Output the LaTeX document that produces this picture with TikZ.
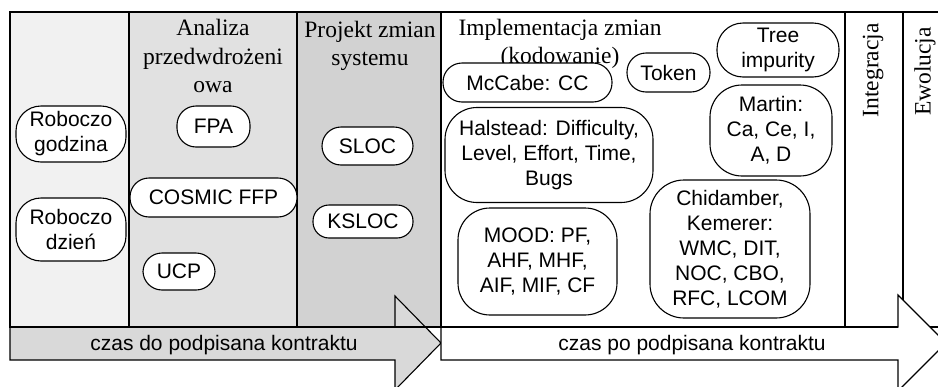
\documentclass[tikz,border=0pt]{standalone}
\usepackage{fontspec}
\setmainfont{Liberation Sans}
\newfontfamily\headfont{Liberation Serif}
\definecolor{phaseA}{RGB}{241,241,241}
\definecolor{phaseB}{RGB}{225,225,225}
\definecolor{phaseC}{RGB}{210,210,210}
\definecolor{arrowgray}{RGB}{217,217,217}

\begin{document}
\begin{tikzpicture}[x=1pt, y=-1pt,
  metric/.style={draw, fill=white, line width=1.1pt, rounded corners=19pt, align=center, inner sep=0pt, font=\fontsize{21}{25}\selectfont},
  phase/.style={align=center, inner sep=0pt, font=\headfont\fontsize{23.5}{28.5}\selectfont},
  column/.style={draw, line width=1.1pt}]
\useasboundingbox (0,0) rectangle (938,386);

% Phase columns
\draw[column, fill=phaseA] (10,12) rectangle (129,327);
\draw[column, fill=phaseB] (129,12) rectangle (297,327);
\draw[column, fill=phaseC] (297,12) rectangle (441,327);
\draw[column, fill=white] (441,12) rectangle (845,327);
\draw[column, fill=white] (845,12) rectangle (903,327);
\draw[column, fill=white] (903,12) rectangle (960,327);

% Phase titles
\node[phase] (analiza) at (213,56) {Analiza\\przedwdrożeni\\owa};
\node[phase] (projekt) at (370,46) {Projekt zmian\\systemu};
\node[phase] (impl) at (560,44) {Implementacja zmian\\(kodowanie)};
\node[phase, rotate=90, anchor=east] (integ) at (873,23) {Integracja};
\node[phase, rotate=90, anchor=east] (ewol) at (925,27) {Ewolucja};

% Time arrows: before and after signing the contract
\draw[line width=1.1pt, fill=arrowgray] (10,327) -- (395,327) -- (395,296) -- (441,343)
  -- (395,390) -- (395,360) -- (10,360) -- cycle;
\draw[line width=1.1pt, fill=white] (441,327) -- (898,327) -- (898,295) -- (946,343)
  -- (898,391) -- (898,360) -- (441,360) -- cycle;
\draw[line width=2.6pt] (10,327) -- (898,327);
\node[font=\fontsize{21}{25}\selectfont] (przed) at (224,345) {czas do podpisana kontraktu};
\node[font=\fontsize{21}{25}\selectfont] (po) at (692,345) {czas po podpisana kontraktu};

% Effort units
\node[metric, minimum width=110, minimum height=56, rounded corners=25pt] (godz) at (71,134) {Roboczo\\godzina};
\node[metric, minimum width=110, minimum height=63, rounded corners=25pt] (dzien) at (71,229.5) {Roboczo\\dzień};

% Pre-implementation analysis
\node[metric, minimum width=73, minimum height=41] (fpa) at (213.5,126.5) {FPA};
\node[metric, minimum width=167, minimum height=39] (cosmic) at (213.5,197.5) {COSMIC FFP};
\node[metric, minimum width=72, minimum height=37] (ucp) at (179,271.5) {UCP};

% System change design
\node[metric, minimum width=91, minimum height=38] (sloc) at (367.5,146) {SLOC};
\node[metric, minimum width=100, minimum height=33, rounded corners=16pt] (ksloc) at (363,221.5) {KSLOC};

% Implementation metrics
\node[metric, minimum width=169, minimum height=39] (mccabe) at (527.5,82.5) {McCabe: CC};
\node[metric, minimum width=83, minimum height=39] (token) at (668.5,72.5) {Token};
\node[metric, minimum width=122, minimum height=54, rounded corners=26pt] (tree) at (778,50) {Tree\\impurity};
\node[metric, minimum width=208, minimum height=95, rounded corners=32pt] (halstead) at (549,155) {Halstead: Difficulty,\\Level, Effort, Time,\\Bugs};
\node[metric, minimum width=122, minimum height=91, rounded corners=32pt] (martin) at (771,130.5) {Martin:\\Ca, Ce, I,\\A, D};
\node[metric, minimum width=159, minimum height=107, rounded corners=32pt] (mood) at (537.5,261.5) {MOOD: PF,\\AHF, MHF,\\AIF, MIF, CF};
\node[metric, minimum width=160, minimum height=138, rounded corners=34pt] (ck) at (730,249) {Chidamber,\\Kemerer:\\WMC, DIT,\\NOC, CBO,\\RFC, LCOM};
\end{tikzpicture}
\end{document}
